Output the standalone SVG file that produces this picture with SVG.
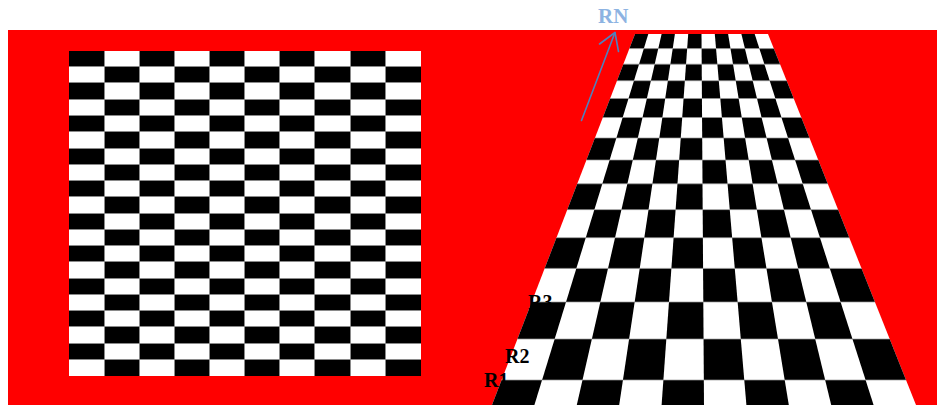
<svg xmlns="http://www.w3.org/2000/svg" width="937" height="405" viewBox="0 0 937 405">
  <style>
    .lbl { font-family: "Liberation Serif", "Times New Roman", serif; font-weight: bold; font-size: 20px; fill: #000; }
    .rn { font-family: "Liberation Serif", "Times New Roman", serif; font-weight: bold; font-size: 21px; fill: #8db3e2; }
    .grid { stroke: #8a8a8a; stroke-width: 1; fill: none; }
    .pgrid { stroke: #9a9a9a; stroke-width: 1; fill: none; opacity: 0.7; }
    .arrow { stroke: #4f81bd; stroke-width: 1.6; fill: none; stroke-linecap: round; stroke-linejoin: round; }
  </style>
  <defs>
    <clipPath id="flatEven">
      <rect x="60" y="51" width="370" height="16"/>
      <rect x="60" y="83" width="370" height="17"/>
      <rect x="60" y="116" width="370" height="16"/>
      <rect x="60" y="149" width="370" height="16"/>
      <rect x="60" y="181" width="370" height="16"/>
      <rect x="60" y="214" width="370" height="16"/>
      <rect x="60" y="246" width="370" height="16"/>
      <rect x="60" y="279" width="370" height="16"/>
      <rect x="60" y="311" width="370" height="16"/>
      <rect x="60" y="344" width="370" height="16"/>
    </clipPath>
    <clipPath id="flatOdd">
      <rect x="60" y="67" width="370" height="16"/>
      <rect x="60" y="100" width="370" height="16"/>
      <rect x="60" y="132" width="370" height="17"/>
      <rect x="60" y="165" width="370" height="16"/>
      <rect x="60" y="197" width="370" height="17"/>
      <rect x="60" y="230" width="370" height="16"/>
      <rect x="60" y="262" width="370" height="17"/>
      <rect x="60" y="295" width="370" height="16"/>
      <rect x="60" y="327" width="370" height="17"/>
      <rect x="60" y="360" width="370" height="16"/>
    </clipPath>
    <clipPath id="evenRows">
      <rect x="400" y="34" width="537" height="14.6"/>
      <rect x="400" y="64.15" width="537" height="16.59"/>
      <rect x="400" y="98.49" width="537" height="19.03"/>
      <rect x="400" y="137.97" width="537" height="22.03"/>
      <rect x="400" y="183.82" width="537" height="25.82"/>
      <rect x="400" y="237.72" width="537" height="30.67"/>
      <rect x="400" y="302.01" width="537" height="37.02"/>
      <rect x="400" y="380.01" width="537" height="45.6"/>
    </clipPath>
    <clipPath id="oddRows">
      <rect x="400" y="48.6" width="537" height="15.55"/>
      <rect x="400" y="80.74" width="537" height="17.75"/>
      <rect x="400" y="117.52" width="537" height="20.45"/>
      <rect x="400" y="160" width="537" height="23.82"/>
      <rect x="400" y="209.64" width="537" height="28.08"/>
      <rect x="400" y="268.39" width="537" height="33.62"/>
      <rect x="400" y="339.03" width="537" height="40.98"/>
    </clipPath>
    <filter id="soft" x="-5%" y="-5%" width="110%" height="110%">
      <feGaussianBlur stdDeviation="0.45"/>
    </filter>
  </defs>

  <g id="background">
    <rect x="8" y="30" width="929" height="375" fill="#ff0000"/>
  </g>

  <g id="flat-board" shape-rendering="crispEdges">
    <rect x="69" y="51" width="352" height="325" fill="#fff"/>
    <g clip-path="url(#flatEven)" fill="#000">
      <rect x="69" y="51" width="36" height="325"/>
      <rect x="140" y="51" width="35" height="325"/>
      <rect x="210" y="51" width="35" height="325"/>
      <rect x="280" y="51" width="35" height="325"/>
      <rect x="351" y="51" width="35" height="325"/>
    </g>
    <g clip-path="url(#flatOdd)" fill="#000">
      <rect x="105" y="51" width="35" height="325"/>
      <rect x="175" y="51" width="35" height="325"/>
      <rect x="245" y="51" width="35" height="325"/>
      <rect x="315" y="51" width="36" height="325"/>
      <rect x="386" y="51" width="35" height="325"/>
    </g>
    <path class="grid" d="M104.5 51V376M139.5 51V376M174.5 51V376M209.5 51V376M244.5 51V376M279.5 51V376M314.5 51V376M350.5 51V376M385.5 51V376
      M69 66.5H421M69 82.5H421M69 99.5H421M69 115.5H421M69 131.5H421M69 148.5H421M69 164.5H421M69 180.5H421M69 196.5H421M69 213.5H421M69 229.5H421M69 245.5H421M69 261.5H421M69 278.5H421M69 294.5H421M69 310.5H421M69 326.5H421M69 343.5H421M69 359.5H421"/>
  </g>

  <g id="perspective-board" filter="url(#soft)">
    <polygon points="635,34 768,34 924.22,425.6 484.06,425.6" fill="#fff"/>
    <g clip-path="url(#evenRows)" fill="#000">
      <polygon points="635,34 648.3,34 528.08,425.6 484.06,425.6"/>
      <polygon points="661.6,34 674.9,34 616.11,425.6 572.09,425.6"/>
      <polygon points="688.2,34 701.5,34 704.14,425.6 660.12,425.6"/>
      <polygon points="714.8,34 728.1,34 792.17,425.6 748.16,425.6"/>
      <polygon points="741.4,34 754.7,34 880.2,425.6 836.19,425.6"/>
    </g>
    <g clip-path="url(#oddRows)" fill="#000">
      <polygon points="648.3,34 661.6,34 572.09,425.6 528.08,425.6"/>
      <polygon points="674.9,34 688.2,34 660.12,425.6 616.11,425.6"/>
      <polygon points="701.5,34 714.8,34 748.16,425.6 704.14,425.6"/>
      <polygon points="728.1,34 741.4,34 836.19,425.6 792.17,425.6"/>
      <polygon points="754.7,34 768,34 924.22,425.6 880.2,425.6"/>
    </g>
    <path class="pgrid" d="M629.37 48.6H773.82M623.38 64.15H780.03M616.98 80.74H786.64M610.14 98.49H793.72M602.81 117.52H801.32M594.93 137.97H809.48M586.43 160H818.26M577.25 183.82H827.76M567.3 209.64H838.06M556.48 237.72H849.27M544.66 268.39H861.51M531.7 302.01H874.92M517.43 339.03H889.68M501.63 380.01H906.02"/>
  </g>

  <g id="rn-arrow">
    <path class="arrow" d="M581.5 120.5L615 32.5"/>
    <path class="arrow" d="M599.5 44L615 32.5L618.5 51.5"/>
    <text class="rn" x="598" y="23">RN</text>
  </g>

  <g id="labels">
    <text class="lbl" x="528" y="309">R3</text>
    <text class="lbl" x="505" y="362.5">R2</text>
    <text class="lbl" x="484" y="387">R1</text>
  </g>
</svg>
